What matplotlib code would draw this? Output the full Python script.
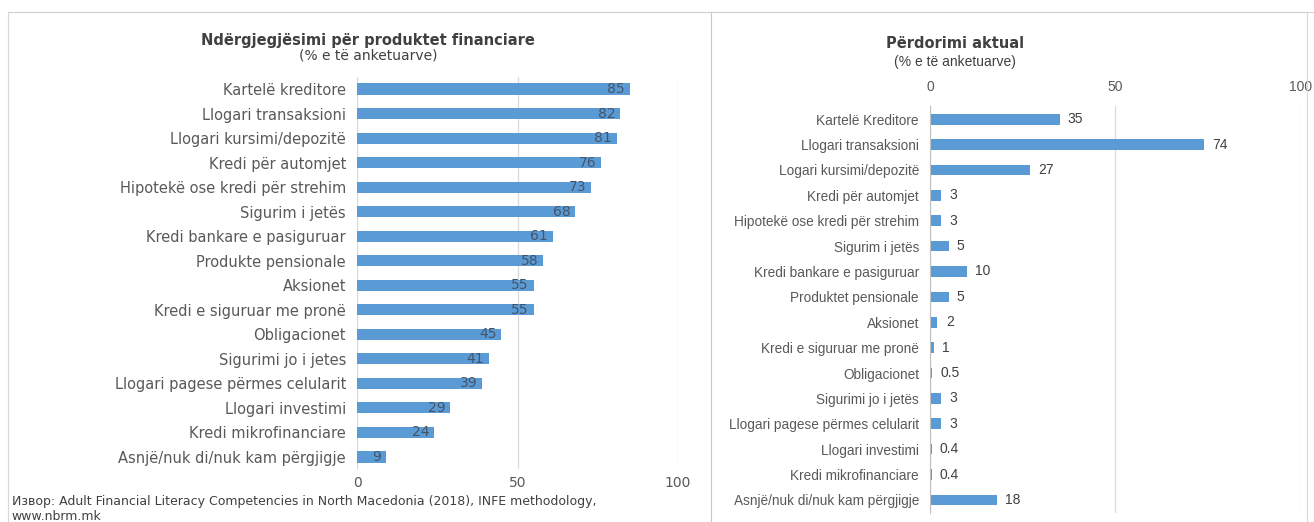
import numpy as np
import matplotlib.pyplot as plt
from matplotlib.lines import Line2D

left_labels = ['Kartelë kreditore', 'Llogari transaksioni', 'Llogari kursimi/depozitë',
               'Kredi për automjet', 'Hipotekë ose kredi për strehim', 'Sigurim i jetës',
               'Kredi bankare e pasiguruar', 'Produkte pensionale', 'Aksionet',
               'Kredi e siguruar me pronë', 'Obligacionet', 'Sigurimi jo i jetes',
               'Llogari pagese përmes celularit', 'Llogari investimi',
               'Kredi mikrofinanciare', 'Asnjë/nuk di/nuk kam përgjigje']
left_values = [85, 82, 81, 76, 73, 68, 61, 58, 55, 55, 45, 41, 39, 29, 24, 9]

right_labels = ['Kartelë Kreditore', 'Llogari transaksioni', 'Logari kursimi/depozitë',
                'Kredi për automjet', 'Hipotekë ose kredi për strehim', 'Sigurim i jetës',
                'Kredi bankare e pasiguruar', 'Produktet pensionale', 'Aksionet',
                'Kredi e siguruar me pronë', 'Obligacionet', 'Sigurimi jo i jetës',
                'Llogari pagese përmes celularit', 'Llogari investimi',
                'Kredi mikrofinanciare', 'Asnjë/nuk di/nuk kam përgjigje']
right_values = [35, 74, 27, 3, 3, 5, 10, 5, 2, 1, 0.5, 3, 3, 0.4, 0.4, 18]
right_text = ['35', '74', '27', '3', '3', '5', '10', '5', '2', '1', '0.5', '3', '3',
              '0.4', '0.4', '18']

ticks = [0, 50, 100]
blue = '#5B9BD5'
text_gray = '#595959'
grid_gray = '#D9D9D9'
narrow = ['Liberation Sans', 'DejaVu Sans']

fig = plt.figure(figsize=(13.14, 5.22), dpi=100)

# faint spreadsheet frame lines
fig.add_artist(Line2D([0.006, 1.0], [0.977, 0.977], color='#D0D0D0', lw=0.8))
fig.add_artist(Line2D([0.006, 0.006], [0.0, 0.977], color='#D8D8D8', lw=0.8))
fig.add_artist(Line2D([0.541, 0.541], [0.0, 0.977], color='#C8C8C8', lw=0.8))
fig.add_artist(Line2D([0.995, 0.995], [0.0, 0.977], color='#D8D8D8', lw=0.8))

# ---- left chart
ax1 = fig.add_axes([0.2717, 0.101, 0.2443, 0.752])
y = np.arange(len(left_values))
ax1.barh(y, left_values, height=0.45, color=blue, zorder=2)
ax1.set_ylim(len(left_values) - 0.5, -0.5)
ax1.set_xlim(0, 100)
ax1.set_yticks(y)
ax1.set_yticklabels(left_labels, fontsize=10.5, color=text_gray)
ax1.set_xticks(ticks)
ax1.set_xticklabels([str(t) for t in ticks], fontsize=10, color=text_gray)
ax1.tick_params(length=0, pad=8)
ax1.tick_params(axis='x', pad=5)
for s in ax1.spines.values():
    s.set_visible(False)
ax1.xaxis.grid(True, color=grid_gray, lw=0.9, zorder=0)
for i, v in enumerate(left_values):
    ax1.text(v - 1.5, i, str(v), ha='right', va='center', fontsize=10,
             color='#44546A', zorder=3)
fig.text(0.28, 0.914, 'Ndërgjegjësimi për produktet financiare', ha='center',
         fontsize=10.5, fontweight='bold', color='#404040')
fig.text(0.28, 0.886, '(% e të anketuarve)', ha='center', fontsize=10,
         color='#404040')
fig.text(0.009, 0.033, 'Извор: Adult Financial Literacy Competencies in North Macedonia '
         '(2018), INFE methodology,', fontsize=9, color='#404040')
fig.text(0.009, 0.004, 'www.nbrm.mk', fontsize=9, color='#404040')

# ---- right chart
ax2 = fig.add_axes([0.7078, 0.018, 0.2816, 0.778])
y2 = np.arange(len(right_values))
ax2.barh(y2, right_values, height=0.42, color=blue, zorder=2)
ax2.set_ylim(len(right_values) - 0.5, -0.5)
ax2.set_xlim(0, 100)
ax2.set_yticks(y2)
ax2.set_yticklabels(right_labels, fontsize=9.8, color=text_gray, family=narrow)
ax2.set_xticks(ticks)
ax2.set_xticklabels([str(t) for t in ticks], fontsize=10, color=text_gray,
                    family=narrow)
ax2.xaxis.tick_top()
ax2.tick_params(length=0, pad=8)
ax2.tick_params(axis='x', pad=9)
for s in ax2.spines.values():
    s.set_visible(False)
ax2.spines['left'].set_visible(True)
ax2.spines['left'].set_color('#BFBFBF')
ax2.xaxis.grid(True, color=grid_gray, lw=0.9, zorder=0)
for i, (v, t) in enumerate(zip(right_values, right_text)):
    ax2.annotate(t, (v, i), xytext=(6, 0), textcoords='offset points',
                 ha='left', va='center', fontsize=10, color='#404040',
                 family=narrow)
fig.text(0.727, 0.908, 'Përdorimi aktual', ha='center', fontsize=10.5,
         fontweight='bold', color='#404040')
fig.text(0.727, 0.873, '(% e të anketuarve)', ha='center', fontsize=10,
         color='#404040', family=narrow)

fig.savefig('out.png', dpi=100)
